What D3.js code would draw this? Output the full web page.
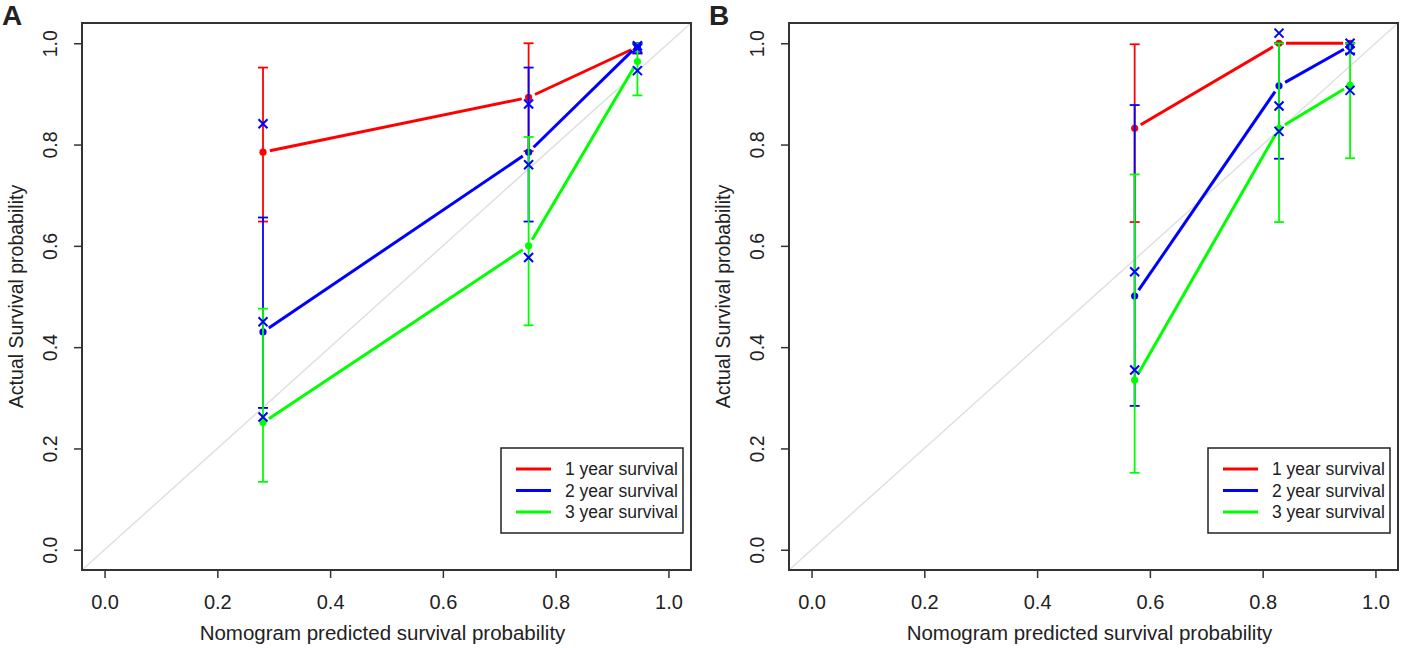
<!DOCTYPE html>
<html>
<head>
<meta charset="utf-8">
<script src="https://cdn.jsdelivr.net/npm/d3@7"></script>
<style>
  body { margin: 0; background: #fff; }
  text { font-family: "Liberation Sans", Arial, sans-serif; fill: #222; }
</style>
</head>
<body>
<svg id="chart" width="1401" height="648"></svg>
<script>
// tick values and legend
var xTicks = [0, 0.2, 0.4, 0.6, 0.8, 1.0];
var yTicks = [0, 0.2, 0.4, 0.6, 0.8, 1.0];
var seriesNames = ["1 year survival", "2 year survival", "3 year survival"];
var seriesColors = ["#ff0000", "#0000ff", "#00ff00"];

// panel A: predicted probability per group, observed per series, error bar limits, corrected (x marks)
var predA = [0.281, 0.752, 0.945];
var obsA1 = [0.785, 0.893, 0.993];
var obsA2 = [0.430, 0.785, 0.995];
var obsA3 = [0.251, 0.600, 0.964];
var lowA1 = [0.648, 0.787, 0.980];
var highA1 = [0.952, 1.000, 1.000];
var lowA2 = [0.280, 0.648, 0.980];
var highA2 = [0.656, 0.952, 1.000];
var lowA3 = [0.134, 0.443, 0.897];
var highA3 = [0.476, 0.815, 1.000];
var corrA1 = [0.841, 0.880, 0.995];
var corrA2 = [0.450, 0.760, 0.990];
var corrA3 = [0.262, 0.577, 0.946];

// panel B
var predB = [0.573, 0.829, 0.955];
var obsB1 = [0.832, 1.000, 1.000];
var obsB2 = [0.501, 0.916, 0.995];
var obsB3 = [0.335, 0.832, 0.917];
var lowB1 = [0.647, 1.000, 1.000];
var highB1 = [0.998, 1.000, 1.000];
var lowB2 = [0.284, 0.772, 0.980];
var highB2 = [0.878, 1.000, 1.000];
var lowB3 = [0.152, 0.647, 0.773];
var highB3 = [0.741, 1.000, 1.000];
var corrB1 = [null, 1.020, 1.000];
var corrB2 = [0.549, 0.876, 0.985];
var corrB3 = [0.355, 0.826, 0.907];

var svg = d3.select("#chart");
var plotW = 609, plotTop = 23, plotBottom = 570;
var fmt = d3.format(".1f");

function drawPanel(left, letter, pred, obs, low, high, corr) {
    var x = d3.scaleLinear().domain([-0.04, 1.04]).range([left, left + plotW]);
    var y = d3.scaleLinear().domain([-0.04, 1.04]).range([plotBottom, plotTop]);
    var g = svg.append("g");

    // reference diagonal
    g.append("line")
            .attr("x1", x(-0.04)).attr("y1", y(-0.04))
            .attr("x2", x(1.04)).attr("y2", y(1.04))
            .attr("stroke", "#e0e0e0")
            .attr("stroke-width", 1.5);

    // axes
    var xAxis = g.append("g")
            .attr("transform", "translate(0," + plotBottom + ")")
            .call(d3.axisBottom(x).tickValues(xTicks).tickFormat(fmt)
                    .tickSize(8).tickSizeOuter(0).tickPadding(17));
    var yAxis = g.append("g")
            .attr("transform", "translate(" + left + ",0)")
            .call(d3.axisLeft(y).tickValues(yTicks).tickFormat(fmt)
                    .tickSize(8).tickSizeOuter(0));
    g.selectAll(".tick line").attr("stroke", "#333").attr("stroke-width", 1.5);
    g.selectAll(".domain").attr("stroke", "none");
    g.selectAll(".tick text")
            .style("font-family", "'Liberation Sans', Arial, sans-serif")
            .attr("fill", "#222");
    xAxis.selectAll("text").style("font-size", "20px");
    yAxis.selectAll("text")
            .attr("x", null)
            .attr("text-anchor", "middle")
            .attr("transform", "translate(-32,0) rotate(-90)")
            .attr("dy", "0.35em")
            .style("font-size", "19.5px");

    // axis titles
    g.append("text")
            .attr("x", (x.range()[0] + x.range()[1]) / 2 - 4)
            .attr("y", 640)
            .attr("text-anchor", "middle")
            .style("font-size", "20.5px")
            .text("Nomogram predicted survival probability");
    g.append("text")
            .attr("transform", "translate(" + (left - 66) + "," + ((plotTop + plotBottom) / 2) + ") rotate(-90)")
            .attr("text-anchor", "middle")
            .attr("dy", "0.35em")
            .style("font-size", "19.5px")
            .text("Actual Survival probability");

    // error bars, lines (type "b" with gaps), points
    obs.forEach(function (ser, s) {
        var col = seriesColors[s];
        pred.forEach(function (p, i) {
            g.append("line")
                    .attr("x1", x(p)).attr("x2", x(p))
                    .attr("y1", y(low[s][i])).attr("y2", y(high[s][i]))
                    .attr("stroke", col).attr("stroke-width", 1.8);
            [low[s][i], high[s][i]].forEach(function (v) {
                g.append("line")
                        .attr("x1", x(p) - 5).attr("x2", x(p) + 5)
                        .attr("y1", y(v)).attr("y2", y(v))
                        .attr("stroke", col).attr("stroke-width", 1.8);
            });
        });
        for (var i = 0; i < pred.length - 1; i++) {
            var x1 = x(pred[i]), y1 = y(ser[i]), x2 = x(pred[i + 1]), y2 = y(ser[i + 1]);
            var len = Math.sqrt((x2 - x1) * (x2 - x1) + (y2 - y1) * (y2 - y1));
            var ux = (x2 - x1) / len, uy = (y2 - y1) / len, gap = 7;
            g.append("line")
                    .attr("x1", x1 + ux * gap).attr("y1", y1 + uy * gap)
                    .attr("x2", x2 - ux * gap).attr("y2", y2 - uy * gap)
                    .attr("stroke", col).attr("stroke-width", 3);
        }
        g.selectAll(null)
                .data(ser)
                .enter()
                .append("circle")
                .attr("cx", function (d, i) { return x(pred[i]); })
                .attr("cy", function (d) { return y(d); })
                .attr("r", 3.6)
                .attr("fill", col);
    });

    // bias-corrected estimates (blue x)
    corr.forEach(function (ser) {
        ser.forEach(function (v, i) {
            if (v === null) return;
            var cx = x(pred[i]), cy = y(v), r = 4.5;
            g.append("path")
                    .attr("d", "M" + (cx - r) + "," + (cy - r) + "L" + (cx + r) + "," + (cy + r) +
                            "M" + (cx - r) + "," + (cy + r) + "L" + (cx + r) + "," + (cy - r))
                    .attr("stroke", "#0000ff").attr("stroke-width", 2).attr("fill", "none");
        });
    });

    // legend
    var legX = x.range()[1] - 8 - 182, legY = 448;
    g.append("rect")
            .attr("x", legX).attr("y", legY)
            .attr("width", 182).attr("height", 85)
            .attr("fill", "#fff").attr("stroke", "#222").attr("stroke-width", 1.5);
    seriesNames.forEach(function (name, s) {
        var ly = legY + 21 + s * 21.5;
        g.append("line")
                .attr("x1", legX + 15).attr("x2", legX + 50)
                .attr("y1", ly).attr("y2", ly)
                .attr("stroke", seriesColors[s]).attr("stroke-width", 3);
        g.append("text")
                .attr("x", legX + 64).attr("y", ly)
                .attr("dy", "0.35em")
                .style("font-size", "17.5px")
                .text(name);
    });

    // plot box
    g.append("rect")
            .attr("x", left).attr("y", plotTop)
            .attr("width", plotW).attr("height", plotBottom - plotTop)
            .attr("fill", "none").attr("stroke", "#333").attr("stroke-width", 2);

    // panel letter
    svg.append("text")
            .attr("x", left - 80).attr("y", 25)
            .style("font-size", "28px")
            .style("font-weight", "bold")
            .attr("fill", "#000")
            .text(letter);
}

drawPanel(82, "A", predA, [obsA1, obsA2, obsA3],
        [lowA1, lowA2, lowA3], [highA1, highA2, highA3], [corrA1, corrA2, corrA3]);
drawPanel(789, "B", predB, [obsB1, obsB2, obsB3],
        [lowB1, lowB2, lowB3], [highB1, highB2, highB3], [corrB1, corrB2, corrB3]);
</script>
</body>
</html>
